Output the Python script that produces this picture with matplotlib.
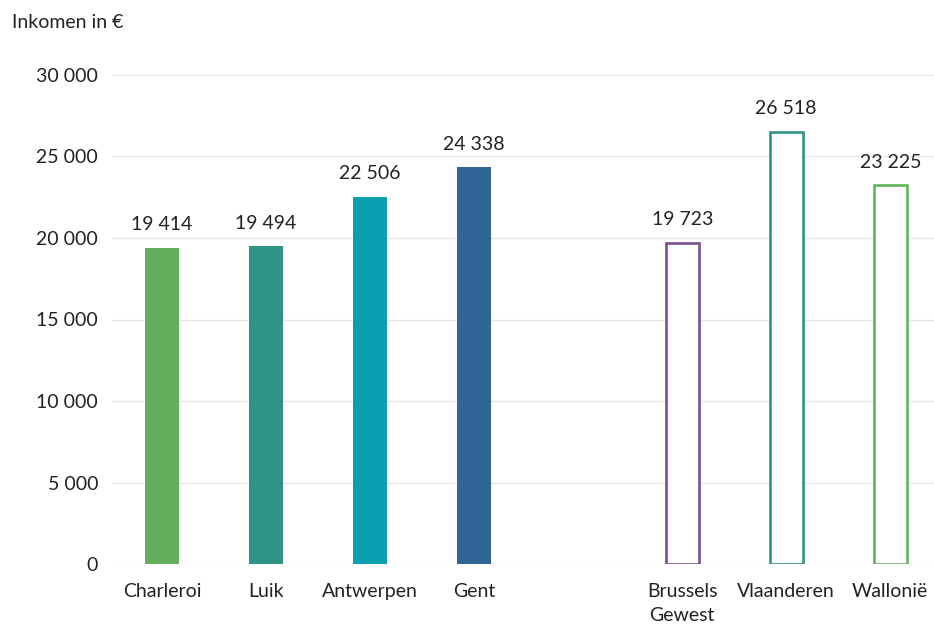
import matplotlib
matplotlib.use("Agg")
import matplotlib.pyplot as plt

plt.rcParams['font.family'] = ['Lato', 'DejaVu Sans']

cities = ['Charleroi', 'Luik', 'Antwerpen', 'Gent']
city_values = [19414, 19494, 22506, 24338]
city_colors = ['#63ae5c', '#2e9485', '#0aa0b0', '#316596']

regions = ['Brussels\nGewest', 'Vlaanderen', 'Wallonië']
region_values = [19723, 26518, 23225]
region_colors = ['#7b4e8c', '#2e9485', '#62b55a']

yticks = [0, 5000, 10000, 15000, 20000, 25000, 30000]


def fmt(v):
    return '{:,}'.format(v).replace(',', ' ')


fig = plt.figure(figsize=(9.34, 6.26), dpi=100)
ax = fig.add_axes([112 / 934, 62 / 626, 1 - 112 / 934, 489 / 626])

city_x = list(range(len(cities)))
region_x = [len(cities) + 1 + i for i in range(len(regions))]
width = 0.32

ax.bar(city_x, city_values, width=width, color=city_colors, zorder=3)
ax.bar(region_x, region_values, width=width, facecolor='white',
       edgecolor=region_colors, linewidth=1.9, zorder=3)

for x, v in zip(city_x + region_x, city_values + region_values):
    ax.text(x, v + 900, fmt(v), ha='center', va='bottom', fontsize=14,
            color='#222222')

ax.set_xlim(-0.48, 7.42)
ax.set_ylim(0, 30000)
ax.set_yticks(yticks)
ax.set_yticklabels([fmt(t) for t in yticks])
ax.set_xticks(city_x + region_x)
ax.set_xticklabels(cities + regions, linespacing=1.45)
ax.tick_params(axis='both', length=0, labelsize=14, colors='#222222')
ax.tick_params(axis='y', pad=10)
ax.tick_params(axis='x', pad=14)
ax.grid(axis='y', color='#e6e6e6', linewidth=1, zorder=0)
for s in ax.spines.values():
    s.set_visible(False)

fig.text(12 / 934, 1 - 22 / 626, 'Inkomen in €', fontsize=14, va='center',
         ha='left', color='#222222')

fig.savefig('out.png', dpi=100)
